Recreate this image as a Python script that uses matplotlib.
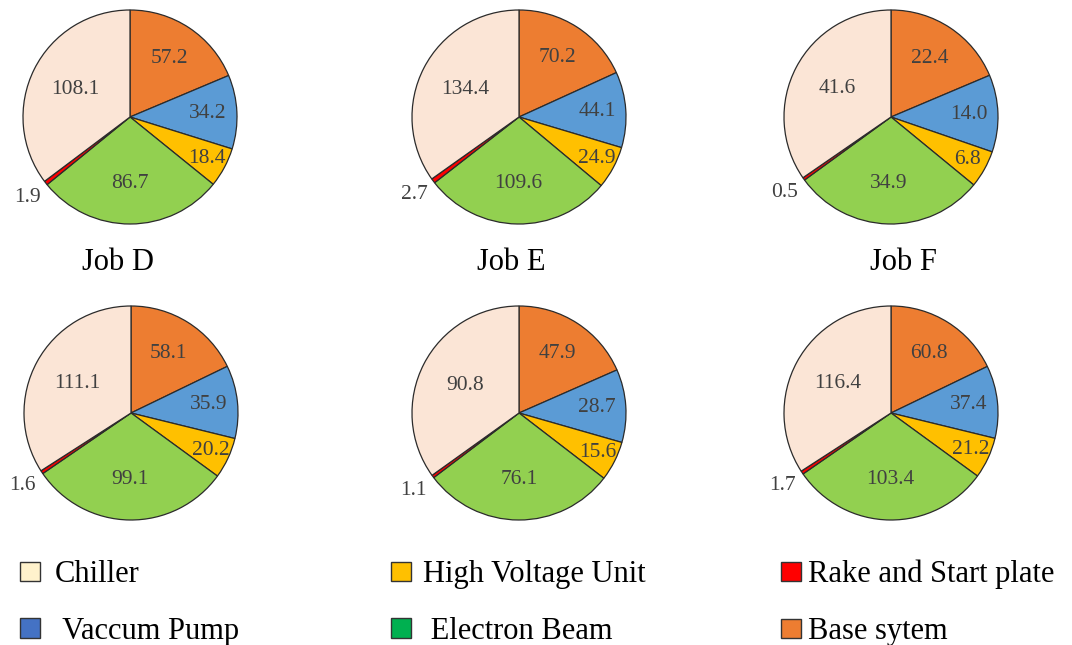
import numpy as np
import matplotlib
matplotlib.use('Agg')
import matplotlib.pyplot as plt
from matplotlib.patches import Patch

plt.rcParams['font.family'] = ['Liberation Serif', 'DejaVu Serif']

# slice order, clockwise from 12 o'clock
parts = ['Base sytem', 'Vaccum Pump', 'High Voltage Unit', 'Electron Beam',
         'Rake and Start plate', 'Chiller']
pie_colors = ['#ED7D31', '#5B9BD5', '#FFC000', '#92D050', '#FF0000', '#FBE5D6']

titles = ['Job D', 'Job E', 'Job F', '', '', '']

job_d = [57.2, 34.2, 18.4, 86.7, 1.9, 108.1]
job_e = [70.2, 44.1, 24.9, 109.6, 2.7, 134.4]
job_f = [22.4, 14.0, 6.8, 34.9, 0.5, 41.6]
job_4 = [58.1, 35.9, 20.2, 99.1, 1.6, 111.1]
job_5 = [47.9, 28.7, 15.6, 76.1, 1.1, 90.8]
job_6 = [60.8, 37.4, 21.2, 103.4, 1.7, 116.4]
all_jobs = [job_d, job_e, job_f, job_4, job_5, job_6]

# legend entries, three columns of two
legend_cols = [
    (['Chiller', ' Vaccum Pump'], ['#FFF2CC', '#4472C4']),
    (['High Voltage Unit', ' Electron Beam'], ['#FFC000', '#00B050']),
    (['Rake and Start plate', 'Base sytem'], ['#FF0000', '#ED7D31']),
]

W, H = 1072, 645
fig = plt.figure(figsize=(W / 100, H / 100), dpi=100)

centers = [(130, 117), (519, 117), (891, 117),
           (131, 413), (519, 413), (891, 413)]
title_x = [118, 511, 903]
R = 107
# radial position of each value label (fraction of radius)
label_r = [0.66, 0.73, 0.82, 0.62, 1.22, 0.57]

for i, ((cx, cy), vals) in enumerate(zip(centers, all_jobs)):
    ax = fig.add_axes([(cx - R) / W, 1 - (cy + R) / H, 2 * R / W, 2 * R / H])
    wedges, _ = ax.pie(vals, colors=pie_colors, startangle=90, counterclock=False,
                       wedgeprops=dict(edgecolor='#2b2b2b', linewidth=0.9))
    ax.set_xlim(-1, 1)
    ax.set_ylim(-1, 1)
    ax.set_aspect('equal')
    for w, v, lr in zip(wedges, vals, label_r):
        ang = np.deg2rad((w.theta1 + w.theta2) / 2)
        ax.text(lr * np.cos(ang), lr * np.sin(ang), f'{v:.1f}',
                ha='center', va='center', fontsize=15.5, color='#404040')
    if titles[i]:
        fig.text(title_x[i] / W, 1 - 262 / H, titles[i], ha='center', va='center',
                 fontsize=22, color='black')

for x_px, pad, (labels, cols) in zip([20, 391, 781], [0.49, 0.39, 0.23], legend_cols):
    handles = [Patch(facecolor=c, edgecolor='#333333', linewidth=1.0) for c in cols]
    fig.legend(handles, labels, loc='center left', bbox_to_anchor=(x_px / W, 1 - 603 / H),
               frameon=False, fontsize=22, handlelength=0.66, handleheight=0.6,
               handletextpad=pad, labelspacing=0.91, borderpad=0, borderaxespad=0)

plt.savefig('out.png', dpi=100)
